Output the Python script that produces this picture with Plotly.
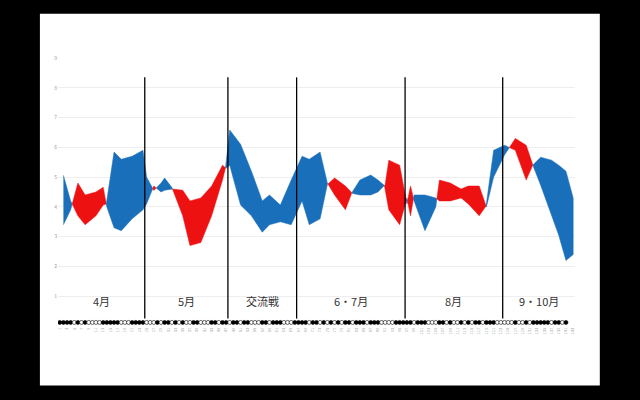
import plotly.graph_objects as go

games = [2, 4, 6, 8, 11, 13, 14, 16, 18, 21, 24, 25, 27, 29, 30, 32, 35, 37, 40, 43, 46, 47,
         48, 51, 54, 57, 59, 62, 65, 68, 70, 73, 75, 77, 80, 82, 84, 87, 89, 91, 92, 95, 97,
         98, 99, 102, 105, 106, 109, 112, 114, 117, 119, 121, 124, 127, 130, 132, 134, 137,
         139, 141, 143]
line_a = [3.4, 3.9, 4.8, 4.4, 4.5, 4.66, 4.0, 3.3, 3.2, 3.6, 3.9, 4.1, 4.7, 4.5, 4.56, 4.6,
          4.56, 4.2, 4.3, 4.7, 5.4, 5.3, 5.4, 4.06, 3.7, 3.15, 3.4, 3.5, 3.4, 4.2, 3.4, 3.6,
          4.75, 4.97, 4.7, 4.45, 4.4, 4.4, 4.5, 4.75, 5.57, 5.4, 4.1, 4.7, 4.2, 3.2, 4.0, 4.9,
          4.8, 4.6, 4.7, 4.7, 4.0, 5.0, 5.74, 6.3, 6.07, 5.35, 4.73, 3.7, 3.05, 2.2, 2.4]
line_b = [5.06, 4.2, 3.7, 3.4, 3.7, 4.06, 4.1, 5.84, 5.6, 5.7, 5.9, 5.0, 4.55, 4.8, 4.97, 4.65,
          3.7, 2.7, 2.8, 3.7, 4.9, 5.4, 6.58, 6.1, 5.2, 4.2, 4.4, 4.06, 4.9, 5.7, 5.6, 5.84,
          4.8, 4.4, 3.9, 4.55, 4.9, 5.07, 4.9, 4.7, 3.9, 3.4, 4.3, 3.7, 4.4, 4.4, 4.3, 4.2,
          4.2, 4.3, 4.1, 3.7, 4.05, 5.9, 6.07, 5.9, 4.9, 5.45, 5.67, 5.57, 5.4, 5.2, 4.3]

months = ["4月", "5月", "交流戦", "6・7月", "8月", "9・10月"]
month_edges = [0.5, 24.5, 47.5, 66.5, 96.5, 123.5, 143.5]

results = ("LLLLWLWLWWWWLLLLLWWWLLLLWWWLWLLWLWLWWLLWWWLLWLLWLLWLLWWWLLWLLLWWWLLLL"
           "WLLWLWLWLWLLWLLLWLLLWWWWLLLLLWLLLWWWLLWLWWLWLWLLWLLLWWWWWLWWLWLLLLLWLLWL")
results = results[:143]

fig = go.Figure()

# split into runs where a>b (red) or a<b (blue), with crossing points
def add_poly(xs, ya, yb, color):
    fig.add_trace(go.Scatter(x=xs + xs[::-1], y=ya + yb[::-1], fill="toself",
                             fillcolor=color, line=dict(color=color, width=0.5),
                             mode="lines", hoverinfo="skip", showlegend=False))

xs, ya, yb = [games[0]], [line_a[0]], [line_b[0]]
sign = line_a[0] > line_b[0]
for i in range(1, len(games)):
    s = line_a[i] > line_b[i]
    if s != sign:
        d0 = line_a[i - 1] - line_b[i - 1]
        d1 = line_a[i] - line_b[i]
        t = d0 / (d0 - d1)
        xc = games[i - 1] + t * (games[i] - games[i - 1])
        yc = line_a[i - 1] + t * (line_a[i] - line_a[i - 1])
        xs.append(xc); ya.append(yc); yb.append(yc)
        add_poly(xs, ya, yb, "#ee1111" if sign else "#1a6fba")
        xs, ya, yb = [xc], [yc], [yc]
        sign = s
    xs.append(games[i]); ya.append(line_a[i]); yb.append(line_b[i])
add_poly(xs, ya, yb, "#ee1111" if sign else "#1a6fba")

fig.add_trace(go.Scatter(
    x=list(range(1, len(results) + 1)), y=[0.12] * len(results), mode="markers",
    marker=dict(size=4, color=["black" if r == "L" else "white" for r in results],
                line=dict(color="black", width=0.6)),
    hoverinfo="skip", showlegend=False))

for e in month_edges[1:-1]:
    fig.add_shape(type="line", x0=e, x1=e, y0=0.25, y1=8.35,
                  line=dict(color="black", width=1.3))
for i, m in enumerate(months):
    fig.add_annotation(x=(month_edges[i] + month_edges[i + 1]) / 2, y=0.85, text=m,
                       showarrow=False, font=dict(size=11, color="#333"))

fig.add_shape(type="rect", xref="paper", yref="paper", x0=-0.035, x1=1.048,
              y0=-0.222, y1=1.165, fillcolor="white", line_width=0, layer="below")

fig.update_layout(
    width=640, height=400, paper_bgcolor="black", plot_bgcolor="white",
    margin=dict(l=58, r=65, t=58, b=74),
    font=dict(family="Noto Sans CJK JP"),
    xaxis=dict(range=[0.5, 143.5], tickmode="array", tickvals=list(range(1, 144, 2)),
               tickangle=-90, tickfont=dict(size=4, color="#aaa"), showgrid=False,
               zeroline=False, ticks=""),
    yaxis=dict(range=[0, 9], tickvals=list(range(1, 10)), tickfont=dict(size=5, color="#999"),
               gridcolor="#eeeeee", zeroline=False),
)
fig.write_html("out.html", config={"displayModeBar": False},
               post_script="document.body.style.margin='0';document.body.style.background='black';")
